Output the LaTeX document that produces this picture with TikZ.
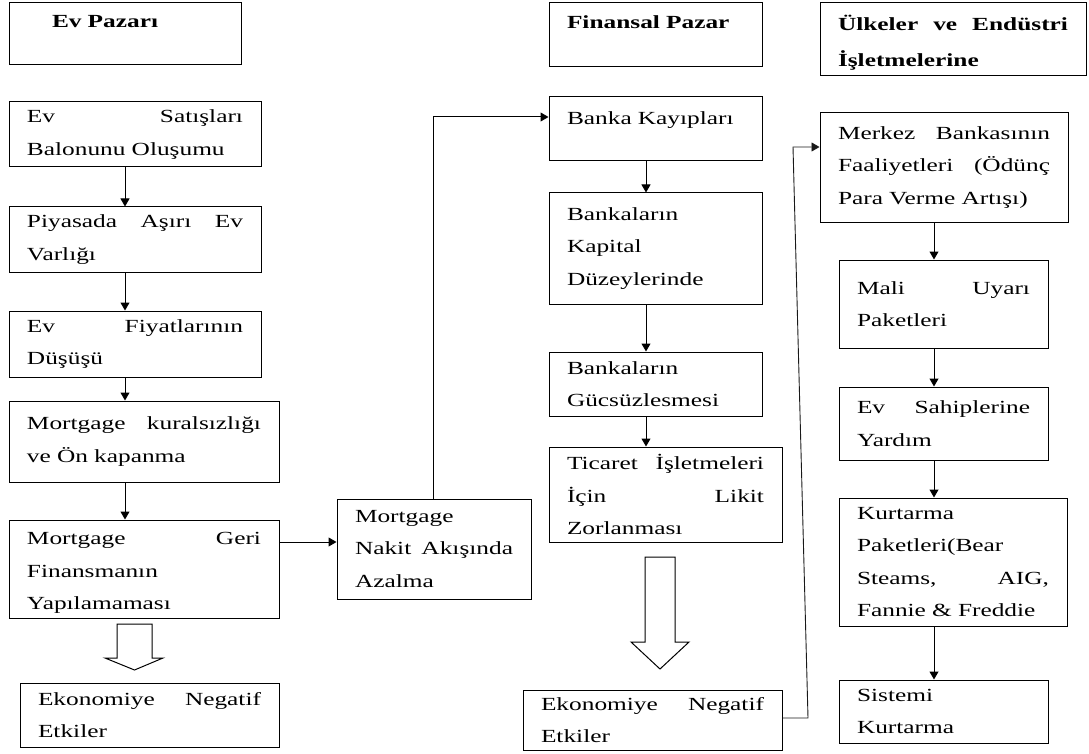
\documentclass[tikz,border=0pt]{standalone}
\usepackage{fontspec}
\setmainfont[FakeStretch=1.37]{Liberation Serif}
\usetikzlibrary{arrows.meta}
\begin{document}
\begin{tikzpicture}[x=1pt,y=-1pt,
  box/.style={draw, line width=1pt, inner xsep=18pt, inner ysep=0pt, align=left,
    font=\fontsize{18.5}{32.5}\selectfont, anchor=center},
  hdr/.style={box, font=\fontsize{18.5}{36}\selectfont\bfseries},
  arr/.style={-{Triangle[length=8pt,width=9pt]}, line width=1pt},
  thinconn/.style={line width=0.9pt, draw=black!90},
  hollow/.style={draw, line width=1pt, fill=white}]
\useasboundingbox (0,0) rectangle (1089,754);

% left column
\node[hdr, minimum width=232pt, minimum height=62pt, text width=196pt] (hL) at (125,34) {\hspace*{25pt}Ev Pazarı\\[-10pt]\mbox{}};
\node[box, minimum width=252pt, minimum height=65pt, text width=216pt] (b1) at (135,134.5) {Ev\hfill Satışları\\Balonunu Oluşumu};
\node[box, minimum width=252pt, minimum height=65pt, text width=216pt] (b2) at (135,239.5) {Piyasada\hfill Aşırı\hfill Ev\\Varlığı};
\node[box, minimum width=252pt, minimum height=66pt, text width=216pt] (b3) at (135,344) {Ev\hfill Fiyatlarının\\Düşüşü};
\node[box, minimum width=270pt, minimum height=81pt, text width=234pt] (b4) at (144,441.5) {Mortgage\hfill kuralsızlığı\\ve Ön kapanma};
\node[box, minimum width=270pt, minimum height=98pt, text width=234pt] (b5) at (144,569) {\rule{0pt}{20pt}Mortgage\hfill Geri\\Finansmanın\\Yapılamaması};
\node[box, minimum width=259pt, minimum height=64pt, text width=223pt] (e1) at (149.5,715) {Ekonomiye\hfill Negatif\\Etkiler};

% bridge box
\node[box, minimum width=194pt, minimum height=100pt, text width=158pt] (nakit) at (434,549) {Mortgage\\Nakit\hfill Akışında\\Azalma};

% middle column
\node[hdr, minimum width=213pt, minimum height=64pt, text width=177pt] (hM) at (655.5,35) {Finansal Pazar\\[-10pt]\mbox{}};
\node[box, minimum width=213pt, minimum height=64pt, text width=177pt] (banka) at (655.5,129) {Banka Kayıpları\\[-10pt]\mbox{}};
\node[box, minimum width=213pt, minimum height=111pt, text width=177pt] (kap) at (655.5,248.5) {Bankaların\\Kapital\\Düzeylerinde};
\node[box, minimum width=213pt, minimum height=64pt, text width=177pt] (guc) at (655.5,384) {Bankaların\\Gücsüzlesmesi};
\node[box, minimum width=233pt, minimum height=95pt, text width=197pt] (tic) at (665.5,494.5) {Ticaret\hfill İşletmeleri\\İçin\hfill Likit\\Zorlanması};
\node[box, minimum width=259pt, minimum height=60pt, text width=223pt] (e2) at (652.5,720) {Ekonomiye\hfill Negatif\\Etkiler};

% right column
\node[hdr, minimum width=266pt, minimum height=73pt, text width=230pt] (hR) at (953,39.5) {\rule{0pt}{21pt}Ülkeler\hfill ve\hfill Endüstri\\İşletmelerine};
\node[box, minimum width=248pt, minimum height=109pt, text width=212pt] (merkez) at (944,167.5) {Merkez\hfill Bankasının\\Faaliyetleri\hfill (Ödünç\\Para Verme Artışı)};
\node[box, minimum width=209pt, minimum height=88pt, text width=173pt] (mali) at (943.5,304) {Mali\hfill Uyarı\\Paketleri};
\node[box, minimum width=209pt, minimum height=73pt, text width=173pt] (evs) at (943.5,423.5) {Ev\hfill Sahiplerine\\Yardım};
\node[box, minimum width=228pt, minimum height=128pt, text width=192pt] (kurt) at (953,562) {Kurtarma\\Paketleri(Bear\\Steams,\hfill AIG,\\Fannie \& Freddie};
\node[box, minimum width=209pt, minimum height=63pt, text width=173pt] (sis) at (943.5,711.5) {Sistemi\\Kurtarma};

% helper coordinates
\coordinate (cL) at (125,0);
\coordinate (cM) at (646,0);
\coordinate (cR) at (934,0);
\coordinate (yA) at (0,542);
\coordinate (cN) at (433,0);
\coordinate (yB) at (0,117);
\coordinate (k1) at (808,718);
\coordinate (k2) at (793,147);

% left arrows
\draw[arr] (b1.south -| cL) -- (b2.north -| cL);
\draw[arr] (b2.south -| cL) -- (b3.north -| cL);
\draw[arr] (b3.south -| cL) -- (b4.north -| cL);
\draw[arr] (b4.south -| cL) -- (b5.north -| cL);
\draw[arr] (b5.east |- yA) -- (nakit.west |- yA);
\draw[arr] (nakit.north -| cN) |- (banka.west |- yB);

% middle arrows
\draw[arr] (banka.south -| cM) -- (kap.north -| cM);
\draw[arr] (kap.south -| cM) -- (guc.north -| cM);
\draw[arr] (guc.south -| cM) -- (tic.north -| cM);

% right arrows
\draw[arr] (merkez.south -| cR) -- (mali.north -| cR);
\draw[arr] (mali.south -| cR) -- (evs.north -| cR);
\draw[arr] (evs.south -| cR) -- (kurt.north -| cR);
\draw[arr] (kurt.south -| cR) -- (sis.north -| cR);

% link from middle economy box to central bank box
\draw[arr, thinconn] (e2.east |- k1) -- (k1) -- (k2) -- (merkez.west |- k2);

% hollow block arrows
\draw[hollow] (117,624) -- (152,624) -- (152,658) -- (163,658) -- (134.5,670) -- (105,658) -- (117,658) -- cycle;
\draw[hollow] (645,557) -- (675,557) -- (675,642) -- (689,642) -- (660,669) -- (631,642) -- (645,642) -- cycle;
\end{tikzpicture}
\end{document}
